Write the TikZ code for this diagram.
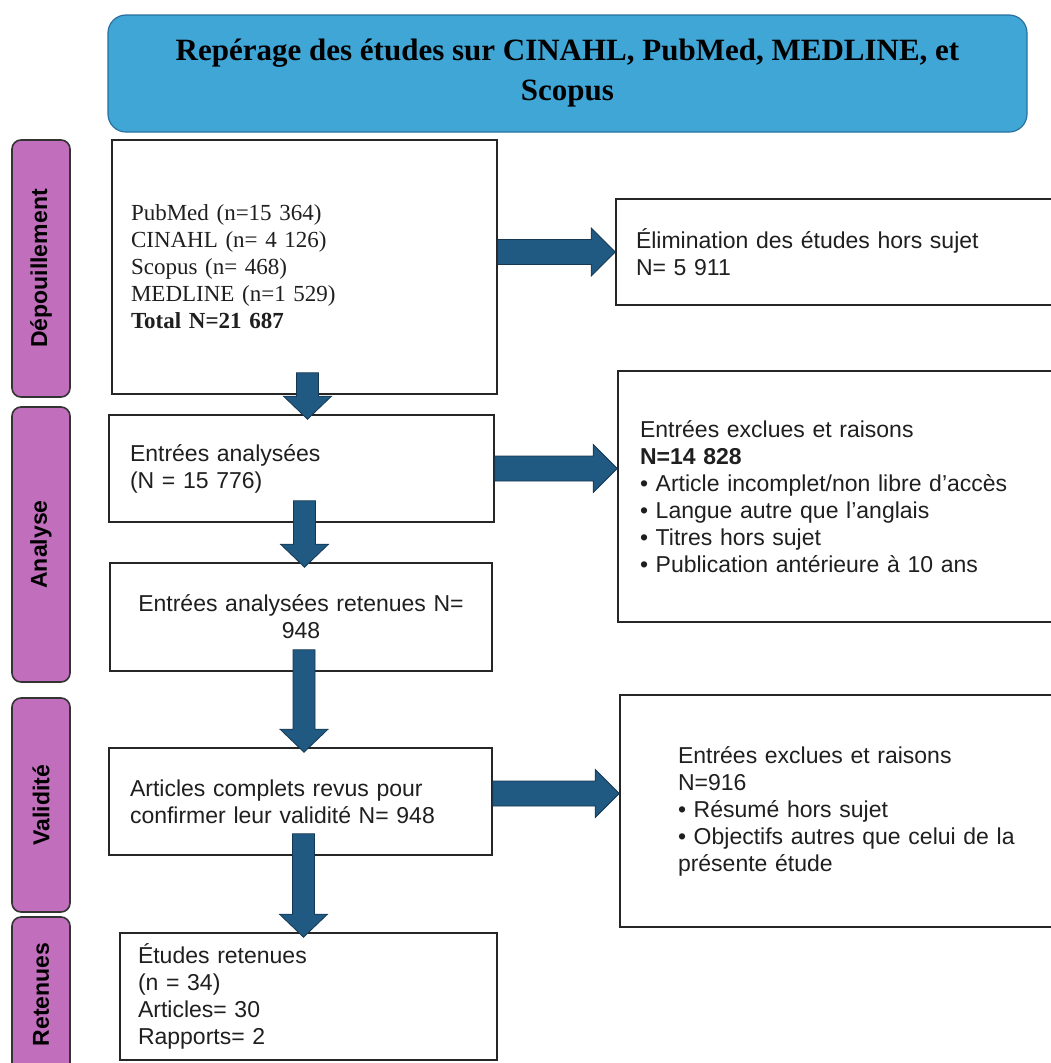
\documentclass[tikz,border=0pt]{standalone}
\usepackage{fontspec}
\setmainfont{Liberation Sans}
\newfontfamily\serifbody{Liberation Serif}
\usetikzlibrary{calc}
\definecolor{titleblue}{RGB}{64,166,214}
\definecolor{titleedge}{RGB}{40,112,160}
\definecolor{phasepink}{RGB}{193,110,189}
\definecolor{arrowblue}{RGB}{32,90,130}
\definecolor{arrowedge}{RGB}{22,55,82}
\tikzset{
	box/.style={draw=black!85, line width=1.6pt, fill=white, inner sep=0pt, text=black!88, font=\fontsize{23}{27}\selectfont},
	phase/.style={draw=black!80, line width=1.6pt, fill=phasepink, rounded corners=9pt, rotate=90, minimum height=58pt, inner sep=0pt, font=\fontsize{23}{27}\selectfont\bfseries},
	titlebox/.style={draw=titleedge, line width=1.2pt, fill=titleblue, rounded corners=18pt, align=center, font=\serifbody\bfseries\fontsize{31}{40}\selectfont},
	blockarrow/.style={fill=arrowblue, draw=arrowedge, line width=0.8pt}
}
\def\hblock(#1)(#2){\draw[blockarrow] let \p1=(#1), \p2=(#2) in (\x1,\y2+12.5pt) -- (\x2-24pt,\y2+12.5pt) -- (\x2-24pt,\y2+24pt) -- (\x2,\y2) -- (\x2-24pt,\y2-24pt) -- (\x2-24pt,\y2-12.5pt) -- (\x1,\y2-12.5pt) -- cycle;}
\def\vblock(#1)(#2){\draw[blockarrow] let \p1=($(#1)+(3,0)$), \p2=(#2) in (\x1-11pt,\y1+22pt) -- (\x1-11pt,\y2+18pt) -- (\x1-24pt,\y2+18pt) -- (\x1,\y2-5pt) -- (\x1+24pt,\y2+18pt) -- (\x1+11pt,\y2+18pt) -- (\x1+11pt,\y1+22pt) -- cycle;}

\begin{document}
\begin{tikzpicture}[x=1pt,y=-1pt]
			%%%%% START %%%%%
			\useasboundingbox (0,0) rectangle (1050,1063);
			
			\node[titlebox, minimum width=919pt, minimum height=117pt] (title) at (567.5,73.5) {Repérage des études sur CINAHL, PubMed, MEDLINE, et\\Scopus};
			
			% phases
			\node[phase, minimum width=257pt] (depouil) at (41,268.5) {Dépouillement};
			\node[phase, minimum width=275pt] (analyse) at (41,544.5) {Analyse};
			\node[phase, minimum width=214pt] (validite) at (41,805) {Validité};
			\node[phase, minimum width=155pt] (retenues) at (41,994.5) {Retenues};
			
			% main column
			\node[box, minimum width=385pt, minimum height=254pt, text width=347pt, align=left] (sources) at (304.5,267) {\serifbody PubMed (n=15 364)\\CINAHL (n= 4 126)\\Scopus (n= 468)\\MEDLINE (n=1 529)\\{\serifbody\bfseries Total N=21 687}};
			\node[box, minimum width=385pt, minimum height=107pt, text width=343pt, align=left] (analysees) at (301.5,468.5) {Entrées analysées\\(N = 15 776)};
			\node[box, minimum width=382pt, minimum height=108pt, text width=350pt, align=center] (gardees) at (301,617) {Entrées analysées retenues N=\\948};
			\node[box, minimum width=383pt, minimum height=107pt, text width=341pt, align=left] (complets) at (300.5,801.5) {Articles complets revus pour\\confirmer leur validité N= 948};
			\node[box, minimum width=377pt, minimum height=127pt, text width=341pt, align=left] (finales) at (308.5,996.5) {Études retenues\\(n = 34)\\Articles= 30\\Rapports= 2};
			
			% exclusions
			\node[box, minimum width=439pt, minimum height=106pt, text width=399pt, align=left] (horsujet) at (835.5,252) {Élimination des études hors sujet\\N= 5 911};
			\node[box, minimum width=437pt, minimum height=251pt, text width=393pt, align=left] (exclues) at (836.5,496.5) {Entrées exclues et raisons\\\textbf{N=14 828}\\• Article incomplet/non libre d’accès\\• Langue autre que l’anglais\\• Titres hors sujet\\• Publication antérieure à 10 ans};
			\node[box, minimum width=460pt, minimum height=232pt, text width=344pt, align=left] (rejets) at (850,811) {Entrées exclues et raisons\\N=916\\• Résumé hors sujet\\• Objectifs autres que celui de la\\présente étude};
			
			% arrows
			\coordinate (validout) at ($(complets.east)+(0,-8)$);
			\hblock(sources.east)(horsujet.west)
			\hblock(analysees.east)(analysees.east -| exclues.west)
			\hblock(validout)(validout -| rejets.west)
			
			\vblock(sources.south)(analysees.north)
			\vblock(analysees.south)(gardees.north)
			\vblock(gardees.south)(complets.north)
			\vblock(complets.south)(finales.north)
			
			%%%%% END %%%%%
\end{tikzpicture}
\end{document}
